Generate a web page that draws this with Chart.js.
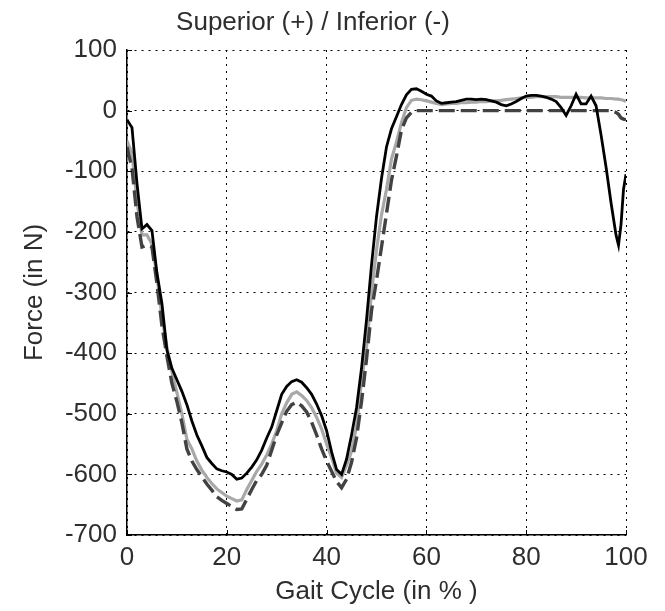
<!DOCTYPE html>
<html>
<head>
<meta charset="utf-8">
<script src="https://cdn.jsdelivr.net/npm/chart.js@4/dist/chart.umd.min.js"></script>
<style>
  html, body { margin: 0; padding: 0; background: #fff; }
  #wrap { width: 665px; height: 611px; }
</style>
</head>
<body>
<div id="wrap"><canvas id="c" width="665" height="611"></canvas></div>
<script>
// ---- data ----
const gaitPct = [
  0,1,2,3,4,5,6,7,8,9,10,11,12,13,14,15,16,17,18,19,20,
  21,22,23,24,25,26,27,28,29,30,31,32,33,34,35,36,37,38,39,40,
  41,42,43,44,45,46,47,48,49,50,51,52,53,54,55,56,57,58,59,60,
  61,62,63,64,65,66,67,68,69,70,71,72,73,74,75,76,77,78,79,80,
  81,82,83,84,85,86,87,88,89,90,91,92,93,94,95,96,97,98,98.5,99,99.5,100
];
const forceBlack = [
  -15,-28,-120,-195,-188,-198,-268,-318,-395,-425,-444,-463,-485,-512,-535,-553,-572,-582,-591,-594,-596,
  -600,-608,-606,-598,-588,-576,-560,-540,-522,-495,-468,-455,-447,-444,-448,-457,-468,-484,-503,-528,
  -563,-592,-600,-575,-535,-490,-425,-345,-255,-175,-112,-60,-30,-10,10,26,35,36,32,27,
  24,16,12,13,14,15,17,19,19,18,19,18,16,14,10,8,11,15,20,24,
  25,25,24,22,19,15,5,-8,8,27,11,11,24,8,-40,-93,-152,-205,-222,-188,-130,-105
];
const forceGray = [
  -50,-70,-150,-205,-205,-220,-272,-340,-390,-430,-465,-500,-542,-558,-578,-593,-605,-615,-624,-630,-636,
  -640,-644,-642,-625,-610,-595,-583,-568,-550,-528,-500,-482,-468,-464,-470,-478,-490,-506,-525,-550,
  -572,-598,-605,-585,-562,-520,-445,-390,-300,-230,-172,-130,-80,-52,-20,5,17,19,18,16,
  14,12,10,11,12,12,13,13,14,14,15,15,16,16,17,18,19,20,21,22,
  22,23,23,23,23,23,22,22,22,22,22,21,21,21,21,20,20,19,19,18,17,15
];
const forceDashed = [
  -60,-95,-175,-225,-222,-225,-285,-355,-405,-450,-480,-515,-558,-578,-592,-604,-616,-626,-637,-643,-648,
  -653,-658,-657,-641,-625,-610,-600,-585,-560,-535,-515,-496,-485,-481,-487,-497,-514,-535,-558,-578,
  -595,-612,-622,-608,-580,-540,-480,-410,-330,-280,-225,-170,-115,-75,-32,-12,-3,0,0,0,
  0,0,0,0,0,0,0,0,0,0,0,0,0,0,0,0,0,0,0,0,
  0,0,0,0,0,0,0,0,0,0,0,0,0,0,0,0,0,-3,-6,-12,-14,-15
];
const xTicks = [0, 20, 40, 60, 80, 100];
const yTicks = [-700, -600, -500, -400, -300, -200, -100, 0, 100];
const titleText = 'Superior (+) / Inferior (-)';
const xTitle = 'Gait Cycle (in % )';
const yTitle = 'Force (in N)';

const toPts = ys => gaitPct.map((x, i) => ({ x: x, y: ys[i] }));
const FONT = "'Liberation Sans', Arial, sans-serif";
const TXT = '#2e2e2e';

const innerTicks = {
  id: 'innerTicks',
  afterDatasetsDraw(chart) {
    const { ctx, chartArea, scales } = chart;
    ctx.save();
    ctx.strokeStyle = '#000';
    ctx.lineWidth = 1;
    ctx.beginPath();
    xTicks.forEach(v => {
      const px = Math.round(scales.x.getPixelForValue(v)) + 0.5;
      ctx.moveTo(px, chartArea.bottom);
      ctx.lineTo(px, chartArea.bottom - 5);
    });
    yTicks.forEach(v => {
      const py = Math.round(scales.y.getPixelForValue(v)) + 0.5;
      ctx.moveTo(chartArea.left, py);
      ctx.lineTo(chartArea.left + 5, py);
    });
    ctx.stroke();
    ctx.restore();
  }
};

new Chart(document.getElementById('c'), {
  type: 'line',
  data: {
    datasets: [
      { label: 'Black', data: toPts(forceBlack), borderColor: '#000000', borderWidth: 2.8, pointRadius: 0, tension: 0, fill: false },
      { label: 'Dashed', data: toPts(forceDashed), borderColor: '#424242', borderWidth: 3.4, borderDash: [16, 6], pointRadius: 0, tension: 0, fill: false },
      { label: 'Gray', data: toPts(forceGray), borderColor: '#a8a8a8', borderWidth: 3.2, pointRadius: 0, tension: 0, fill: false }
    ]
  },
  options: {
    responsive: false,
    animation: false,
    devicePixelRatio: 1,
    layout: { padding: { left: 0, right: 39, top: 0, bottom: 0 } },
    plugins: {
      legend: { display: false },
      tooltip: { enabled: false },
      title: {
        display: true,
        text: titleText,
        color: TXT,
        font: { family: FONT, size: 26, weight: 'normal' },
        padding: { top: 7.4, bottom: 11.4 }
      }
    },
    scales: {
      x: {
        type: 'linear',
        min: 0, max: 100,
        afterBuildTicks: s => { s.ticks = xTicks.map(v => ({ value: v })); },
        afterFit: s => { s.height = 76; },
        ticks: { color: TXT, font: { family: FONT, size: 26 }, padding: 7, maxRotation: 0, autoSkip: false },
        grid: { color: '#000', lineWidth: 1, drawTicks: false },
        border: { display: true, color: '#000', width: 1.5, dash: [2, 5] },
        title: { display: true, text: xTitle, color: TXT, font: { family: FONT, size: 26 }, padding: { top: 0, bottom: 3.4 } }
      },
      y: {
        type: 'linear',
        min: -700, max: 100,
        afterBuildTicks: s => { s.ticks = yTicks.map(v => ({ value: v })); },
        afterFit: s => { s.width = 127; },
        ticks: { color: TXT, font: { family: FONT, size: 26 }, padding: 10, autoSkip: false },
        grid: { color: '#000', lineWidth: 1, drawTicks: false },
        border: { display: true, color: '#000', width: 1.5, dash: [2, 5] },
        title: { display: true, text: yTitle, color: TXT, font: { family: FONT, size: 26 }, padding: { top: 19.4, bottom: 0 } }
      }
    }
  },
  plugins: [innerTicks]
});
</script>
</body>
</html>
